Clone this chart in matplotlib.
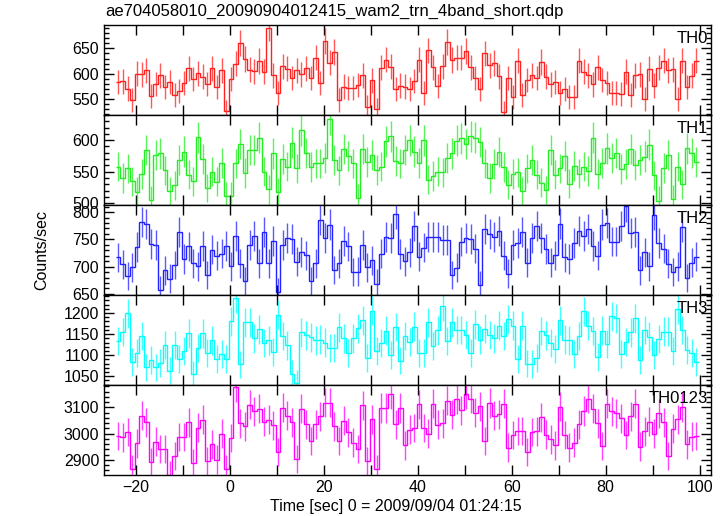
import numpy as np
import matplotlib
matplotlib.use("Agg")
import matplotlib.pyplot as plt
from matplotlib.ticker import MultipleLocator

plt.rcParams['font.family'] = ['Liberation Sans', 'DejaVu Sans']

title = "ae704058010_20090904012415_wam2_trn_4band_short.qdp"
xlabel = "Time [sec] 0 = 2009/09/04 01:24:15"
ylabel = "Counts/sec"
t_start = -24.2
bin_width = 1.0

panel_names = ["TH0", "TH1", "TH2", "TH3", "TH0123"]
panel_colors = ["#ff2020", "#22ee22", "#2222ff", "#00ffff", "#ff00ff"]

th0 = [584,585,571,549,600,599,607,557,580,597,
       574,584,558,566,582,611,590,601,594,580,
       611,574,607,526,590,620,660,629,608,605,
       625,604,690,597,563,615,610,592,607,599,
       611,592,632,
       582,665,622,643,548,575,572,572,578,597,
       535,587,530,612,628,614,570,577,575,570,
       586,628,563,646,613,576,615,663,627,632,
       632,645,613,592,570,640,617,621,595,524,
       592,554,626,
       559,588,597,592,623,594,579,584,563,570,
       555,555,626,604,597,579,613,588,582,563,
       563,561,604,559,597,599,550,610,577,612,
       626,607,609,550,626,574,596,626]

th1 = [558,540,555,535,518,546,584,505,576,579,
       552,519,528,569,582,545,535,605,570,524,
       550,534,564,511,511,563,594,548,584,584,
       604,550,522,579,517,570,558,596,555,616,
       580,557,563,563,572,634,569,552,586,
       575,563,508,586,565,577,553,558,598,606,
       567,563,584,
       600,582,564,600,537,543,550,549,572,579,
       599,603,594,606,604,597,563,540,562,581,
       557,529,546,549,519,555,569,545,532,521,
       584,545,555,575,531,559,547,558,551,604,
       546,564,587,571,580,554,562,586,561,568,
       574,593,544,504,556,576,507,558,530,587,
       580,565]

th2 = [717,704,683,699,736,782,778,741,740,658,
       693,678,703,764,714,737,706,701,738,685,
       731,720,724,738,701,757,705,673,740,757,
       706,763,706,747,653,740,753,751,709,727,
       721,673,706,786,753,777,694,706,747,737,
       690,691,740,699,712,669,724,754,753,797,
       723,710,
       726,775,718,735,754,755,755,749,749,685,
       698,746,753,750,733,667,769,759,755,765,
       720,687,740,743,764,707,753,775,753,732,
       707,721,779,717,714,744,766,757,769,738,
       720,777,780,746,746,775,811,762,764,693,
       726,701,795,743,733,705,690,700,773,679,
       707,718]

th3 = [1133,1155,1200,1083,1106,1145,1071,1089,1071,1081,
       1125,1063,1124,1090,1110,1152,1054,1117,1152,1104,
       1135,1090,1102,1090,1180,1236,1078,1178,1178,1140,
       1161,1128,1135,1108,1196,1145,1123,1055,1033,1154,
       1147,1142,1135,1137,1130,1118,1118,1166,1140,1106,
       1140,1164,1183,1094,1206,1109,1128,1158,1100,1167,
       1087,1145,
       1131,1168,1106,1104,1178,1122,1159,1217,1133,1178,
       1160,1160,1148,1104,1173,1136,1163,1148,1140,1170,
       1146,1185,1170,1091,1170,1080,1079,1094,1157,1147,
       1129,1114,1183,1137,1135,1102,1146,1204,1170,1157,
       1095,1158,1127,1192,1188,1102,1131,1154,1188,1088,
       1160,1144,1101,1138,1156,1156,1110,1210,1160,1113,
       1104,1083]

th0123 = [2991,2985,3006,2865,2963,3068,3043,2893,2969,2942,
          2942,2843,2915,2987,2987,3043,2888,3023,3053,2894,
          2959,2901,3000,2865,2983,3178,3039,3027,3110,3085,
          3094,3045,3053,3032,2929,3099,3068,3043,2903,3094,
          3036,2972,3036,3066,3117,3117,3028,2972,3048,3004,
          2965,2941,3107,2894,3055,2865,3097,3097,3150,3035,
          3097,2955,3014,3021,3111,3021,3000,3114,3034,3039,
          3125,3071,3130,3088,3150,3133,3079,3104,2972,3116,
          3068,3074,3114,2946,2994,3010,3010,2930,3006,
          3008,3062,2996,2978,2955,3103,2994,2946,2965,3036,
          3086,3133,3094,3039,2952,3114,3085,3077,3059,2994,
          3065,3114,2950,3008,3045,3000,3077,3043,2914,
          3019,3055,3101,2959,2988,2991]

series = [th0, th1, th2, th3, th0123]
ylims = [(519, 696), (497, 640), (648, 813), (1029, 1243), (2842, 3185)]
ymajor = [50, 50, 50, 50, 100]
yminor = [10, 10, 10, 10, 20]

fig = plt.figure(figsize=(7.25, 5.16), dpi=100)
left, right, top, bottom = 104/725, 711/725, 1 - 25/516, 1 - 475/516
h = (top - bottom) / 5
axes = []
for i in range(5):
    ax = fig.add_axes([left, top - (i + 1) * h, right - left, h])
    axes.append(ax)

for i, ax in enumerate(axes):
    vals = np.asarray(series[i], dtype=float)
    n = len(vals)
    edges = t_start + bin_width * np.arange(n + 1)
    centers = 0.5 * (edges[:-1] + edges[1:])
    err = np.sqrt(vals * bin_width) / bin_width
    col = panel_colors[i]
    ax.errorbar(centers, vals, yerr=err, fmt='none', ecolor=col, elinewidth=1.0,
                alpha=0.75, capsize=0)
    ax.stairs(vals, edges, baseline=None, color=col, linewidth=1.0)
    ax.set_xlim(-26.7, 102.4)
    ax.set_ylim(*ylims[i])
    ax.xaxis.set_major_locator(MultipleLocator(20))
    ax.xaxis.set_minor_locator(MultipleLocator(10))
    ax.yaxis.set_major_locator(MultipleLocator(ymajor[i]))
    ax.yaxis.set_minor_locator(MultipleLocator(yminor[i]))
    ax.tick_params(which='both', direction='in', top=True, right=True, labelsize=11.5,
                   width=1.0)
    ax.tick_params(which='major', length=7, axis='y')
    ax.tick_params(which='minor', length=3.5, axis='y')
    ax.tick_params(which='both', length=7, axis='x')
    for sp in ax.spines.values():
        sp.set_linewidth(1.0)
    if i < 4:
        ax.tick_params(axis='x', labelbottom=False)
    ax.text(0.995, 0.93, panel_names[i], transform=ax.transAxes, ha='right', va='top',
            fontsize=12)

fig.text(396/725, 1 - 507/516, xlabel, ha='center', va='center', fontsize=11.5)
fig.text(0.058, (top + bottom) / 2, ylabel, rotation=90, ha='center', va='center', fontsize=11.5)
fig.text(left + 0.002, 0.977, title, ha='left', va='center', fontsize=12)

fig.savefig("out.png", dpi=100)
